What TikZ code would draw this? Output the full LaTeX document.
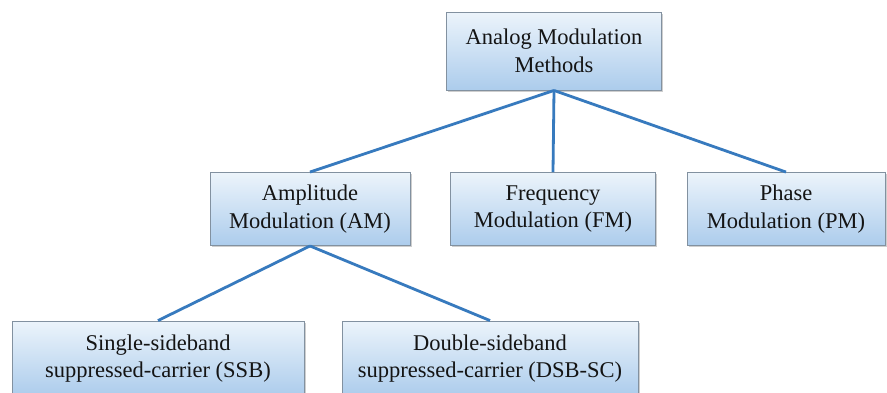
\documentclass[tikz,border=0pt]{standalone}
\usepackage{fontspec}
\newfontfamily\boxfont{Liberation Serif}
\usetikzlibrary{shadows}
\definecolor{boxtop}{RGB}{236,244,251}
\definecolor{boxbottom}{RGB}{172,204,236}
\definecolor{boxedge}{RGB}{130,145,160}
\definecolor{linkblue}{RGB}{55,122,190}
\begin{document}
\begin{tikzpicture}[x=1pt,y=-1pt,
  box/.style={draw=boxedge, line width=0.9pt, top color=boxtop, bottom color=boxbottom,
    align=center, inner sep=0pt, text=black!92,
    font=\boxfont\fontsize{22.5}{27.5}\selectfont,
    drop shadow={shadow xshift=1.6pt, shadow yshift=-1.6pt, opacity=0.35, fill=black!55}},
  link/.style={draw=linkblue, line width=2.8pt}]
\useasboundingbox[fill=white] (0,0) rectangle (887,392);

% root
\node[box, minimum width=215pt, minimum height=78pt] (root) at (554,51) {Analog Modulation\\Methods};

% second level
\node[box, minimum width=200pt, minimum height=73pt] (am) at (310,209) {Amplitude\\Modulation (AM)};
\node[box, minimum width=205pt, minimum height=73pt] (fm) at (553,209) {Frequency\\Modulation (FM)};
\node[box, minimum width=198pt, minimum height=73pt] (pm) at (786,209) {Phase\\Modulation (PM)};

% third level
\node[box, minimum width=292pt, minimum height=75pt] (ssb) at (158,358.5) {Single-sideband\\suppressed-carrier (SSB)};
\node[box, minimum width=296pt, minimum height=75pt] (dsb) at (490,358.5) {Double-sideband\\suppressed-carrier (DSB-SC)};

% connectors
\draw[link] (root.south) -- (am.north);
\draw[link] (root.south) -- (fm.north);
\draw[link] (root.south) -- (pm.north);
\draw[link] (am.south) -- (ssb.north);
\draw[link] (am.south) -- (dsb.north);
\end{tikzpicture}
\end{document}
